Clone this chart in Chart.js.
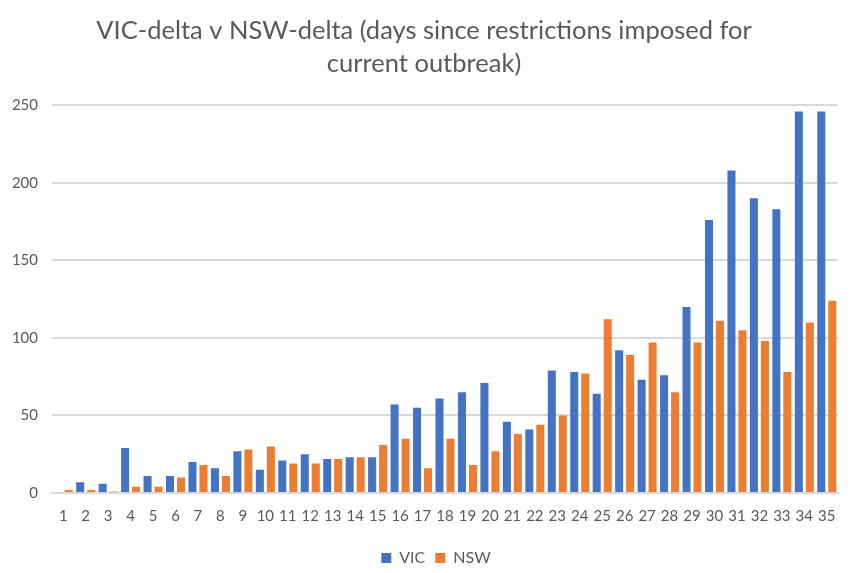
<!DOCTYPE html>
<html>
<head>
<meta charset="utf-8">
<script src="https://cdn.jsdelivr.net/npm/chart.js@4"></script>
<style>
  html, body { margin: 0; padding: 0; background: #fff; }
  #wrap { width: 854px; height: 573px; }
</style>
</head>
<body>
<div id="wrap"><canvas id="chart"></canvas></div>
<script>
// days since restrictions imposed
const days = [];
for (let d = 1; d <= 35; d++) days.push(String(d));

const vicCases = [0, 7, 6, 29, 11, 11, 20, 16, 27, 15, 21, 25, 22, 23, 23, 57, 55, 61, 65, 71,
    46, 41, 79, 78, 64, 92, 73, 76, 120, 176, 208, 190, 183, 246, 246];
const nswCases = [2, 2, 1, 4, 4, 10, 18, 11, 28, 30, 19, 19, 22, 23, 31, 35, 16, 35, 18, 27,
    38, 44, 50, 77, 112, 89, 97, 65, 97, 111, 105, 98, 78, 110, 124];
const yTicks = [0, 50, 100, 150, 200, 250];

const titleLines = ['VIC-delta v NSW-delta (days since restrictions imposed for', 'current outbreak)'];
const grey = '#595959';
const FONT = 'Lato, "Open Sans", sans-serif';

// nudge the legend a little lower / right, like the Excel original
const legendShift = {
    id: 'legendShift',
    afterLayout(chart) {
        const lg = chart.legend;
        lg.top += 3; lg.bottom += 3;
        lg.left += 12; lg.right += 12;
    }
};

const ctx = document.getElementById('chart').getContext('2d');
new Chart(ctx, {
    type: 'bar',
    data: {
        labels: days,
        datasets: [
            { label: 'VIC', data: vicCases, backgroundColor: '#4472C4' },
            { label: 'NSW', data: nswCases, backgroundColor: '#ED7D31' }
        ]
    },
    options: {
        responsive: true,
        maintainAspectRatio: false,
        animation: false,
        datasets: { bar: { categoryPercentage: 0.98, barPercentage: 0.73 } },
        layout: { padding: { left: 10, right: 16, top: 8, bottom: 0 } },
        plugins: {
            title: {
                display: true,
                text: titleLines,
                color: grey,
                font: { family: FONT, size: 25.5, weight: 'normal', lineHeight: 1.3 },
                padding: { top: 6, bottom: 25 }
            },
            legend: {
                position: 'bottom',
                labels: {
                    color: grey,
                    font: { family: FONT, size: 16 },
                    boxWidth: 10,
                    boxHeight: 10,
                    padding: 10
                }
            },
            tooltip: { enabled: false }
        },
        scales: {
            x: {
                grid: { display: false },
                border: { color: '#d9d9d9', width: 2 },
                afterFit: axis => { axis.height += 6; },
                ticks: { color: grey, font: { family: FONT, size: 15 }, maxRotation: 0, autoSkip: false, padding: 6 }
            },
            y: {
                min: 0,
                max: 250,
                afterBuildTicks: axis => { axis.ticks = yTicks.map(v => ({ value: v })); },
                afterFit: axis => { axis.width = 42; },
                grid: { color: '#d9d9d9', lineWidth: 2, drawTicks: false },
                border: { display: false },
                ticks: { color: grey, font: { family: FONT, size: 15 }, padding: 14 }
            }
        }
    },
    plugins: [legendShift]
});
</script>
</body>
</html>
